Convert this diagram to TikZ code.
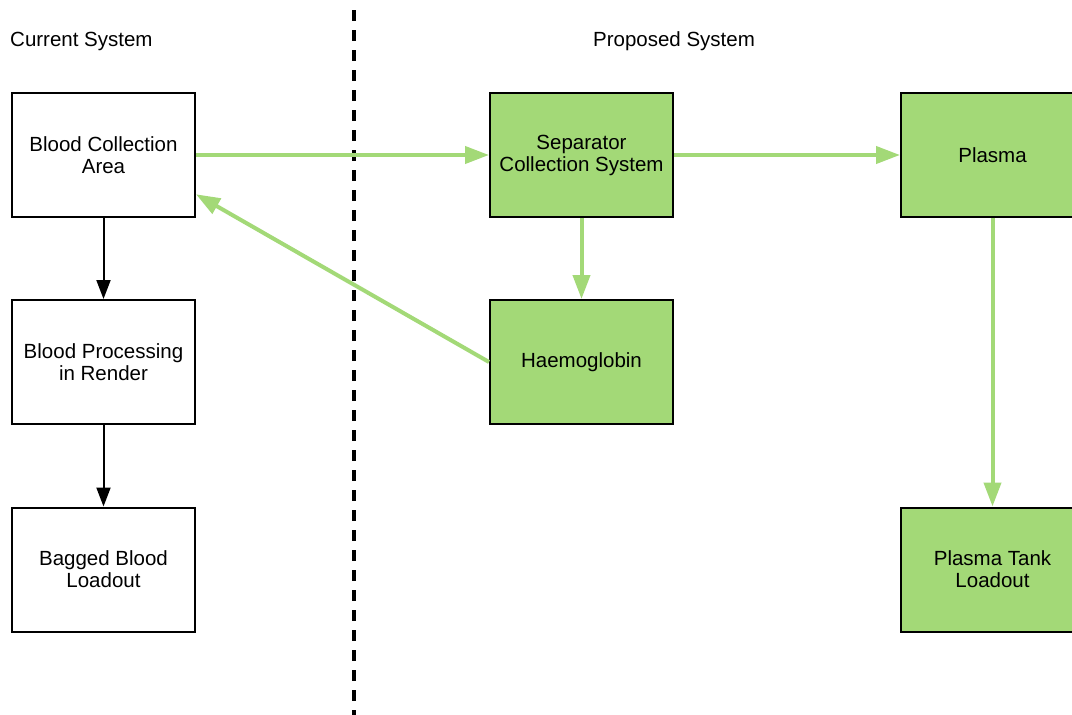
\documentclass[tikz,border=0pt]{standalone}
\usepackage{fontspec}
\setmainfont{Liberation Sans}
\usetikzlibrary{arrows.meta}
\definecolor{lgreen}{HTML}{A3D977}
\tikzset{
  box/.style={draw=black, line width=2pt, minimum width=183pt, minimum height=124pt, align=center, inner sep=0pt, font=\fontsize{20.5}{22}\selectfont},
  gbox/.style={box, fill=lgreen},
  garrow/.style={draw=lgreen, line width=4pt, -{Triangle[length=24pt,width=17pt]}},
  barrow/.style={draw=black, line width=2pt, -{Triangle[length=19pt,width=14pt]}},
  lbl/.style={font=\fontsize{20.5}{22}\selectfont, inner sep=0pt}
}
\begin{document}
\begin{tikzpicture}[x=1pt,y=-1pt]
\useasboundingbox (0,0) rectangle (1072,715);
\fill[white] (0,0) rectangle (1072,715);
\node[lbl, anchor=west] (cur) at (10,41.5) {Current System};
\node[lbl] (prop) at (674,41.5) {Proposed System};
\coordinate (dtop) at (354,10);
\coordinate (dbot) at (354,715);
\draw[line width=4pt, dash pattern=on 11pt off 9pt] (dtop) -- (dbot);
\node[box] (bca) at (103.5,155) {Blood Collection\\Area};
\node[box] (bpr) at (103.5,362) {Blood Processing\\in Render};
\node[box] (bbl) at (103.5,569.5) {Bagged Blood\\Loadout};
\node[gbox] (sep) at (581.5,155) {Separator\\Collection System};
\node[gbox] (hae) at (581.5,362) {Haemoglobin};
\node[gbox] (pla) at (992.5,155) {Plasma};
\node[gbox] (plt) at (992.5,569.5) {Plasma Tank\\Loadout};
\draw[barrow] (bca) -- (bpr);
\draw[barrow] (bpr) -- (bbl);
\draw[garrow] (bca.east) -- (sep.west);
\draw[garrow] (sep.east) -- (pla.west);
\draw[garrow] (sep) -- (hae);
\draw[garrow] (pla) -- (plt);
\draw[garrow] (hae.west) -- (bca.-23.6);
\end{tikzpicture}
\end{document}
